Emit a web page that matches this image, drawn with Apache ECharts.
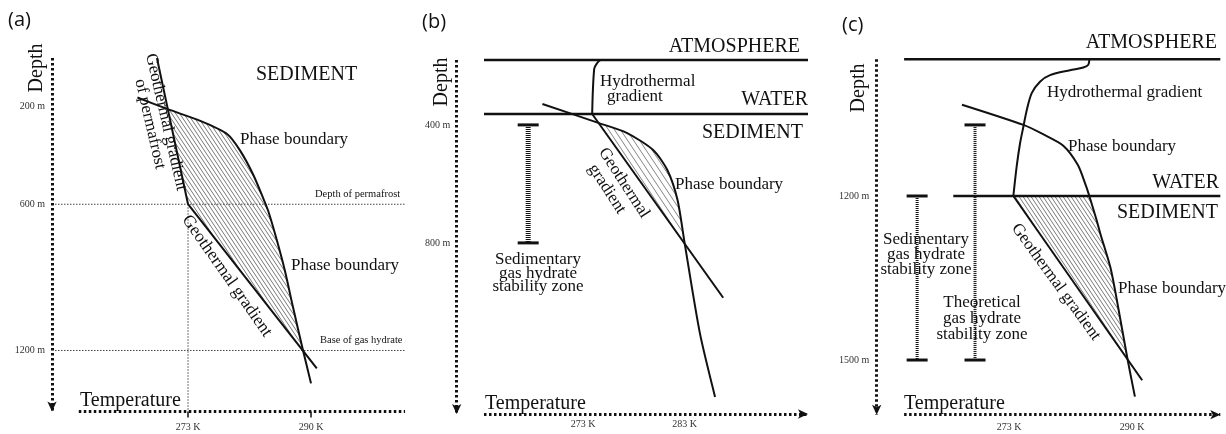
<!DOCTYPE html>
<html>
<head>
<meta charset="utf-8">
<script src="https://cdn.jsdelivr.net/npm/echarts@6.0.0/dist/echarts.min.js"></script>
<style>
  html, body { margin: 0; padding: 0; background: #fff; }
  #chart { width: 1226px; height: 434px; }
</style>
</head>
<body>
<div id="chart"></div>
<script>
// ---------- Panel (a): permafrost setting (temperature in K, depth in m) ----------
const tempRangeA = [257.9, 303];
const depthRangeA = [0, 1450];
const tempTicksA = [273, 290];
const depthTicksA = [200, 600, 1200];
const permafrostGradientA = [[268.7, 0], [273, 600]];
const geothermalGradientA = [[273, 600], [290.8, 1273]];
const phaseBoundaryA = [[266.0, 162], [270.2, 210], [274.7, 258], [278.4, 312], [280.2, 380],
  [282.0, 478], [283.4, 576], [284.1, 629], [285.3, 750], [286.4, 874], [287.5, 1021],
  [288.9, 1200], [290.0, 1335]];
const referenceDepthsA = [600, 1200];   // depth of permafrost, base of gas hydrate
const permafrostTempA = 273;
const hatchDepthsA = [210, 1200];

// ---------- Panel (b): shallow marine setting ----------
const tempRangeB = [263.25, 295.15];
const depthRangeB = [180, 1380];
const tempTicksB = [273, 283];
const depthTicksB = [400, 800];
const atmosphereDepthB = 180;
const seafloorDepthB = 363;
const hydrothermalB = [[274.7, 180], [274.4, 190], [274.1, 210], [273.9, 363]];
const geothermalB = [[273.9, 363], [286.8, 986]];
const phaseBoundaryB = [[269.0, 329], [274.5, 393], [277.3, 427], [279.9, 485], [281.3, 553],
  [282.3, 654], [283.0, 800], [284.5, 1105], [286.0, 1322]];
const stabilityZoneB = [[267.6, 400, 800]];
const hatchDepthsB = [393, 800];

// ---------- Panel (c): deep marine setting ----------
const tempRangeC = [258.5, 302.2];
const depthRangeC = [950, 1600];
const tempTicksC = [273, 290];
const depthTicksC = [1200, 1500];
const atmosphereDepthC = 950;
const seafloorDepthC = 1200;
const seafloorStartC = 265.3;
const hydrothermalC = [[284.1, 950], [283.96, 960], [283.27, 965], [281.43, 970], [278.67, 979],
  [277.28, 991], [276.14, 1012], [275.45, 1043], [274.99, 1073], [274.52, 1104],
  [274.06, 1146], [273.6, 1200]];
const geothermalC = [[273.6, 1200], [291.4, 1537]];
const phaseBoundaryC = [[266.5, 1033], [275.0, 1070], [277.7, 1087], [280.5, 1108], [282.5, 1143],
  [283.6, 1180], [284.1, 1200], [285.1, 1244], [285.6, 1268], [287.0, 1330], [287.9, 1390],
  [289.4, 1500], [290.4, 1567]];
const stabilityZonesC = [[260.3, 1200, 1500], [268.3, 1070, 1500]];
const hatchDepthsC = [1200, 1500];

// ---------- styling and layout ----------
const INK = '#111';
const SERIF = '"Liberation Serif", "DejaVu Serif", serif';
const SANS = '"Open Sans", "DejaVu Sans", sans-serif';
const panels = [
  { left: 78.8, top: 58, width: 326.25, height: 353.4, axisGap: 26.8 },
  { left: 484, top: 60, width: 324, height: 354, axisGap: 27.3 },
  { left: 904.1, top: 59.3, width: 316.2, height: 355.4, axisGap: 27.4 }
];

// temperature on a given depth along a polyline
function tempAt(line, d) {
  for (let i = 0; i < line.length - 1; i++) {
    const [t0, d0] = line[i], [t1, d1] = line[i + 1];
    if (d >= d0 && d <= d1) return t0 + (t1 - t0) * (d - d0) / (d1 - d0);
  }
  return line[line.length - 1][0];
}
function segment(line, dTop, dBot) {
  return [[tempAt(line, dTop), dTop]]
    .concat(line.filter(p => p[1] > dTop && p[1] < dBot))
    .concat([[tempAt(line, dBot), dBot]]);
}
// closed outline of the stability field between phase boundary and gradient
function band(boundary, gradient, depths) {
  return segment(boundary, depths[0], depths[1])
    .concat(segment(gradient, depths[0], depths[1]).reverse());
}

function hatchPattern(w, h, color, lw) {
  const c = document.createElement('canvas');
  c.width = w; c.height = h;
  const g = c.getContext('2d');
  g.strokeStyle = color; g.lineWidth = lw;
  g.beginPath();
  [-w, 0, w].forEach(dx => { g.moveTo(dx, 0); g.lineTo(dx + w, h); });
  g.stroke();
  return { image: c, repeat: 'repeat' };
}

function curve(idx, data, width, smooth) {
  return {
    type: 'line', xAxisIndex: idx, yAxisIndex: idx, data: data,
    symbol: 'none', smooth: smooth || false, silent: true, clip: false, z: 3,
    lineStyle: { color: INK, width: width || 2 }
  };
}
function hatchSeries(idx, outline, pattern) {
  return {
    type: 'custom', xAxisIndex: idx, yAxisIndex: idx, silent: true, z: 1,
    data: [outline[0]],
    renderItem: (params, api) => ({
      type: 'polygon',
      shape: { points: outline.map(p => api.coord(p)) },
      style: { fill: pattern, stroke: null }
    })
  };
}
function zoneSeries(idx, data, barWidth) {
  return {
    type: 'custom', xAxisIndex: idx, yAxisIndex: idx, silent: true, z: 2,
    data: data,
    renderItem: (params, api) => {
      const top = api.coord([api.value(0), api.value(1)]);
      const bot = api.coord([api.value(0), api.value(2)]);
      const cap = 10.5;
      return {
        type: 'group', children: [
          { type: 'line', shape: { x1: top[0], y1: top[1], x2: bot[0], y2: bot[1] },
            style: { stroke: INK, lineWidth: barWidth, lineDash: [1, 1] } },
          { type: 'line', shape: { x1: top[0] - cap, y1: top[1], x2: top[0] + cap, y2: top[1] },
            style: { stroke: INK, lineWidth: 3 } },
          { type: 'line', shape: { x1: bot[0] - cap, y1: bot[1], x2: bot[0] + cap, y2: bot[1] },
            style: { stroke: INK, lineWidth: 3 } }
        ]
      };
    }
  };
}
// dotted reference depths running from the depth axis across the panel
function referenceSeries(idx, depths, gap) {
  return {
    type: 'custom', xAxisIndex: idx, yAxisIndex: idx, silent: true, z: 0,
    data: depths.map(d => [permafrostTempA, d]),
    renderItem: (params, api) => {
      const y = api.coord([api.value(0), api.value(1)])[1];
      const cs = params.coordSys;
      return { type: 'line',
        shape: { x1: cs.x - gap + 3, y1: y, x2: cs.x + cs.width, y2: y },
        style: { stroke: '#444', lineWidth: 1, lineDash: [1.5, 1.5] } };
    }
  };
}

const axisDots = { color: INK, width: 3, type: [2.5, 2.5], cap: 'butt' };

function xAxisFor(idx, range, ticks, margin, arrow, showTicks) {
  return {
    type: 'value', gridIndex: idx, min: range[0], max: range[1], position: 'bottom',
    axisLine: { show: true, onZero: false, lineStyle: axisDots,
      symbol: arrow ? ['none', 'arrow'] : 'none', symbolSize: [7, 10] },
    axisTick: { show: !!showTicks, customValues: ticks, length: 6, lineStyle: { color: INK, width: 1.5 } },
    axisLabel: { customValues: ticks, formatter: v => v + ' K', margin: margin,
      fontFamily: SERIF, fontSize: 10, color: '#333' },
    splitLine: { show: false }
  };
}
function yAxisFor(idx, range, ticks, gap, margin) {
  return {
    type: 'value', gridIndex: idx, min: range[0], max: range[1], inverse: true,
    position: 'left', offset: gap,
    axisLine: { show: true, onZero: false, lineStyle: axisDots,
      symbol: ['arrow', 'none'], symbolSize: [7, 10] },
    axisTick: { show: false },
    axisLabel: { customValues: ticks, formatter: v => v + ' m', margin: margin,
      fontFamily: SERIF, fontSize: 10, color: '#333' },
    splitLine: { show: false }
  };
}

function text(str, x, y, size, opt) {
  opt = opt || {};
  return {
    type: 'text', x: x, y: y, silent: true, z: 10,
    rotation: (opt.rot || 0) * Math.PI / 180,
    style: {
      text: str, fill: INK,
      font: size + 'px ' + (opt.family || SERIF),
      align: opt.align || 'left', verticalAlign: 'middle',
      lineHeight: opt.lh || Math.round(size * 1.2)
    }
  };
}

const labels = [
  // (a)
  text('(a)', 8, 20, 20, { family: SANS }),
  text('Depth', 37, 68, 20, { rot: 90, align: 'center' }),
  text('SEDIMENT', 256, 75, 20),
  text('Phase boundary', 240, 140, 17),
  text('Phase boundary', 291, 266, 17),
  text('Depth of permafrost', 315, 194, 10.5),
  text('Base of gas hydrate', 320, 340, 10.5),
  text('Geothermal gradient', 166, 122, 17, { rot: -77, align: 'center' }),
  text('of permafrost', 150, 124, 17, { rot: -77, align: 'center' }),
  text('Geothermal gradient', 227, 276, 17.5, { rot: -55, align: 'center' }),
  text('Temperature', 80, 401, 20),
  // (b)
  text('(b)', 422, 22.5, 20, { family: SANS }),
  text('Depth', 442, 82, 20, { rot: 90, align: 'center' }),
  text('ATMOSPHERE', 800, 47, 20, { align: 'right' }),
  text('Hydrothermal', 600, 82, 17),
  text('gradient', 607, 97, 17),
  text('WATER', 808, 100, 20, { align: 'right' }),
  text('SEDIMENT', 803, 133, 20, { align: 'right' }),
  text('Phase boundary', 675, 185, 17),
  text('Geothermal', 624, 183, 17, { rot: -57, align: 'center' }),
  text('gradient', 607, 189, 17, { rot: -57, align: 'center' }),
  text('Sedimentary\ngas hydrate\nstability zone', 538, 273.5, 17, { align: 'center', lh: 13.5 }),
  text('Temperature', 485, 404, 20),
  // (c)
  text('(c)', 842, 25, 20, { family: SANS }),
  text('Depth', 859, 88, 20, { rot: 90, align: 'center' }),
  text('ATMOSPHERE', 1217, 43, 20, { align: 'right' }),
  text('Hydrothermal gradient', 1047, 93, 17),
  text('Phase boundary', 1068, 147, 17),
  text('WATER', 1219, 183, 20, { align: 'right' }),
  text('SEDIMENT', 1218, 213, 20, { align: 'right' }),
  text('Sedimentary\ngas hydrate\nstability zone', 926, 255, 17, { align: 'center', lh: 15 }),
  text('Theoretical\ngas hydrate\nstability zone', 982, 319, 17, { align: 'center', lh: 16 }),
  text('Geothermal gradient', 1056, 282, 17, { rot: -54, align: 'center' }),
  text('Phase boundary', 1118, 289, 17),
  text('Temperature', 904, 404, 20)
];

const gradientA = permafrostGradientA.concat(geothermalGradientA.slice(1));

const series = [
  // (a)
  referenceSeries(0, referenceDepthsA, panels[0].axisGap),
  { type: 'line', xAxisIndex: 0, yAxisIndex: 0, symbol: 'none', silent: true, z: 0,
    data: [[permafrostTempA, referenceDepthsA[0]], [permafrostTempA, depthRangeA[1]]],
    lineStyle: { color: '#444', width: 1, type: [1.5, 1.5] } },
  hatchSeries(0, band(phaseBoundaryA, gradientA, hatchDepthsA), hatchPattern(4, 6, '#555', 0.8)),
  curve(0, permafrostGradientA, 2),
  curve(0, geothermalGradientA, 2),
  curve(0, phaseBoundaryA, 2, 0.25),
  // (b)
  curve(1, [[tempRangeB[0], atmosphereDepthB], [tempRangeB[1], atmosphereDepthB]], 2.5),
  curve(1, [[tempRangeB[0], seafloorDepthB], [tempRangeB[1], seafloorDepthB]], 2.5),
  hatchSeries(1, band(phaseBoundaryB, geothermalB, hatchDepthsB), hatchPattern(6, 9, '#666', 0.8)),
  curve(1, hydrothermalB, 2, 0.3),
  curve(1, geothermalB, 2),
  curve(1, phaseBoundaryB, 2, 0.25),
  zoneSeries(1, stabilityZoneB, 5),
  // (c)
  curve(2, [[tempRangeC[0], atmosphereDepthC], [tempRangeC[1], atmosphereDepthC]], 2.5),
  curve(2, [[seafloorStartC, seafloorDepthC], [tempRangeC[1], seafloorDepthC]], 2.5),
  hatchSeries(2, band(phaseBoundaryC, geothermalC, hatchDepthsC), hatchPattern(4, 6, '#555', 0.8)),
  curve(2, hydrothermalC, 2, 0.3),
  curve(2, geothermalC, 2),
  curve(2, phaseBoundaryC, 2, 0.25),
  zoneSeries(2, stabilityZonesC, 3)
];

const chart = echarts.init(document.getElementById('chart'), null, { renderer: 'canvas' });
chart.setOption({
  animation: false,
  backgroundColor: '#fff',
  grid: panels.map(p => ({ left: p.left, top: p.top, width: p.width, height: p.height,
    containLabel: false, outerBoundsMode: 'none' })),
  xAxis: [
    xAxisFor(0, tempRangeA, tempTicksA, 11, false, true),
    xAxisFor(1, tempRangeB, tempTicksB, 5, true, false),
    xAxisFor(2, tempRangeC, tempTicksC, 7.5, true, false)
  ],
  yAxis: [
    yAxisFor(0, depthRangeA, depthTicksA, panels[0].axisGap, 7),
    yAxisFor(1, depthRangeB, depthTicksB, panels[1].axisGap, 6.5),
    yAxisFor(2, depthRangeC, depthTicksC, panels[2].axisGap, 7.5)
  ],
  series: series,
  graphic: labels
});
</script>
</body>
</html>
